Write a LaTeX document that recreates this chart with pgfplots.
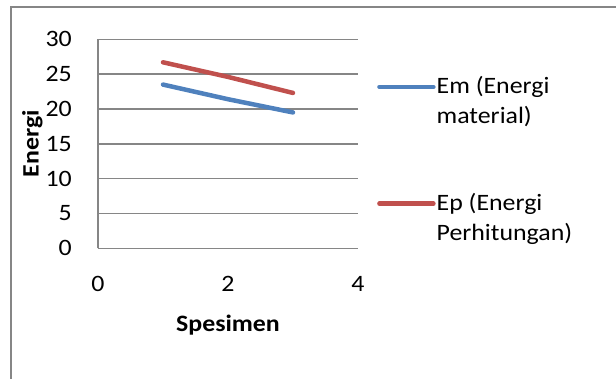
\documentclass[border=0pt]{standalone}
\usepackage{fontspec}
\setmainfont{Carlito}[FakeStretch=1.1]
\usepackage{pgfplots}
\pgfplotsset{compat=1.18}
\definecolor{emblue}{HTML}{4F81BD}
\definecolor{epred}{HTML}{C0504D}
\definecolor{gridgray}{HTML}{868686}
\begin{document}
\fontsize{23.5}{30}\selectfont
\begin{tikzpicture}[x=1pt,y=1pt]
\useasboundingbox (0,0) rectangle (616,379);
\draw[gridgray, line width=2pt] (10.5,0) -- (10.5,372) -- (616,372);
\begin{axis}[
  at={(98pt,130.7pt)}, anchor=south west,
  scale only axis, width=260pt, height=209pt,
  xmin=0, xmax=4, ymin=0, ymax=30,
  xtick={0,2,4}, ytick={0,5,10,15,20,25,30},
  /pgf/number format/assume math mode=true,
  axis x line*=bottom, axis y line*=left,
  axis line style={gridgray, line width=1.5pt, -},
  ymajorgrids, major grid style={gridgray, line width=1.5pt},
  tick style={draw=none},
  yticklabel style={anchor=east, inner sep=0pt, xshift=-26pt},
  xticklabel style={anchor=north, inner sep=0pt, yshift=-28pt},
  xlabel={\bfseries Spesimen},
  ylabel={\bfseries Energi},
  every axis x label/.style={at={(axis description cs:0.5,-0.368)}, anchor=center},
  every axis y label/.style={at={(axis description cs:-0.252,0.5)}, anchor=center, rotate=90},
  legend style={at={(axis description cs:1.073,0.8225)}, anchor=north west, draw=none, fill=none, inner sep=0pt, column sep=1pt, row sep=66pt, nodes={inner sep=0pt, align=left}},
  legend cell align=left,
  legend image code/.code={\path[draw=none] (0pt,-15pt) (0pt,15pt); \draw[#1, line cap=round] (0pt,15pt) -- (54pt,15pt);},
]
\addplot[emblue, line width=4.5pt, line cap=round] coordinates {(1,23.5) (2,21.4) (3,19.5)};
\addlegendentry{Em (Energi\\material)}
\addplot[epred, line width=4.5pt, line cap=round] coordinates {(1,26.7) (2,24.6) (3,22.3)};
\addlegendentry{Ep (Energi\\Perhitungan)}
\end{axis}
\end{tikzpicture}
\end{document}
